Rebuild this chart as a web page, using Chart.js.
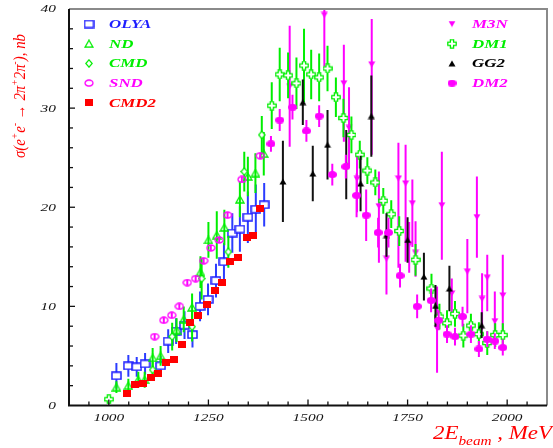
<!DOCTYPE html>
<html>
<head>
<meta charset="utf-8">
<script src="https://cdn.jsdelivr.net/npm/chart.js@4.4.1/dist/chart.umd.min.js"></script>
<style>
  html, body { margin: 0; padding: 0; background: #fff; }
  canvas { display: block; }
</style>
</head>
<body>
<canvas id="chart" width="553" height="448"></canvas>
<script>
// === data: 2E (MeV), sigma (nb), errors (nb) ===
const olyaE = [1019, 1049, 1070, 1091, 1130, 1149, 1169, 1190, 1210, 1229, 1249, 1269, 1289, 1310, 1329, 1349, 1369, 1390];
const olyaS = [3.0, 4.0, 3.9, 4.2, 4.0, 6.5, 7.5, 8.1, 7.15, 10.0, 10.7, 12.6, 14.5, 17.4, 17.8, 19.0, 19.8, 20.25];
const olyaErr = [1.3, 1.1, 1.0, 1.1, 1.0, 1.2, 1.3, 1.4, 1.3, 1.5, 1.6, 1.7, 1.9, 2.0, 2.3, 2.6, 2.5, 2.2];

const ndE = [1019, 1049, 1074, 1090, 1110, 1130, 1170, 1188, 1209, 1230, 1250, 1271, 1290, 1329, 1349, 1368, 1389];
const ndS = [1.85, 2.0, 2.6, 2.6, 4.8, 5.0, 7.6, 8.7, 9.9, 13.45, 16.7, 17.2, 17.96, 20.8, 23.1, 23.45, 25.4];
const ndErr = [0.6, 0.7, 0.8, 0.8, 1.0, 1.0, 1.2, 1.3, 1.4, 1.6, 1.8, 2.4, 1.8, 1.8, 2.0, 2.0, 2.2];

const cmdE = [1110, 1159, 1209, 1233, 1300, 1340, 1384];
const cmdS = [3.6, 6.95, 7.95, 12.8, 15.5, 23.6, 27.3];
const cmdErr = [0.8, 1.4, 1.5, 2.1, 1.6, 2.0, 1.9];

const sndE = [1115, 1138, 1158, 1177, 1197, 1218, 1238, 1256, 1277, 1298, 1334, 1380];
const sndS = [6.95, 8.6, 9.1, 10.0, 12.4, 12.8, 14.6, 15.9, 16.7, 19.2, 22.8, 25.2];
const sndErr = [0.3, 0.3, 0.3, 0.3, 0.3, 0.3, 0.3, 0.3, 0.3, 0.3, 0.3, 0.3];

const cmd2E = [1046, 1066, 1085, 1105, 1124, 1143, 1163, 1184, 1205, 1225, 1246, 1266, 1285, 1305, 1325, 1346, 1362, 1380];
const cmd2S = [1.25, 2.1, 2.2, 2.8, 3.2, 4.3, 4.6, 6.15, 8.4, 9.1, 10.2, 11.6, 12.4, 14.55, 14.9, 16.95, 17.1, 19.85];
const cmd2Err = [0.2, 0.2, 0.2, 0.2, 0.2, 0.3, 0.3, 0.3, 0.3, 0.3, 0.3, 0.3, 0.3, 0.3, 0.3, 0.3, 0.3, 0.3];

const m3nE = [1454, 1541, 1590, 1603, 1623, 1660, 1678, 1697, 1727, 1745, 1754, 1762, 1770, 1824, 1836, 1861, 1900, 1924, 1937, 1950, 1969, 1989];
const m3nS = [32.2, 39.4, 32.5, 28.0, 22.85, 34.4, 20.1, 14.8, 22.9, 22.4, 16.2, 20.4, 15.4, 7.8, 20.2, 11.3, 13.5, 19.0, 10.75, 12.9, 8.5, 11.1];
const m3nLo = [6.1, 5.2, 5.9, 4.0, 3.35, 9.1, 5.7, 3.6, 9.0, 7.9, 2.8, 4.4, 2.4, 4.5, 5.5, 2.0, 4.2, 4.1, 3.1, 3.4, 2.4, 4.5];
const m3nHi = [6.1, 5.5, 3.9, 4.1, 2.45, 4.6, 3.5, 2.6, 3.6, 3.9, 2.3, 2.4, 3.2, 4.2, 5.4, 1.5, 3.3, 4.1, 2.6, 2.3, 3.0, 4.1];

const dm1E = [1000, 1409, 1429, 1450, 1471, 1490, 1508, 1528, 1549, 1570, 1589, 1609, 1630, 1649, 1669, 1689, 1709, 1729, 1770, 1810, 1830, 1849, 1869, 1890, 1909, 1929, 1950, 1970, 1989];
const dm1S = [0.63, 30.25, 33.4, 33.3, 32.5, 34.3, 33.4, 33.1, 34.0, 31.1, 29.0, 27.3, 25.3, 23.7, 22.5, 20.65, 19.3, 17.6, 14.7, 11.8, 8.97, 8.3, 9.25, 7.05, 8.06, 7.2, 6.3, 7.1, 7.1];
const dm1Err = [0.3, 2.35, 2.7, 2.3, 2.6, 3.7, 2.5, 2.4, 2.3, 2.0, 1.95, 1.85, 1.4, 1.35, 1.3, 1.3, 1.4, 1.5, 1.6, 1.5, 1.3, 1.3, 1.3, 1.2, 1.2, 1.2, 1.2, 1.2, 1.2];

const gg2E = [1437, 1487, 1512, 1549, 1596, 1632, 1659, 1697, 1750, 1791, 1820, 1855, 1936];
const gg2S = [22.6, 30.6, 23.4, 26.3, 24.3, 22.4, 29.2, 17.2, 16.7, 13.0, 10.05, 11.8, 8.1];
const gg2Err = [4.1, 2.3, 2.8, 3.5, 3.5, 2.8, 4.1, 2.2, 2.3, 2.4, 2.1, 2.3, 1.3];

const dm2E = [1407, 1429, 1461, 1496, 1528, 1561, 1595, 1622, 1646, 1676, 1702, 1731, 1774, 1809, 1828, 1849, 1869, 1888, 1909, 1929, 1950, 1969, 1989];
const dm2S = [26.4, 28.8, 30.1, 27.7, 29.2, 23.3, 24.1, 21.2, 19.2, 17.45, 17.45, 13.1, 10.0, 10.6, 8.6, 7.2, 6.95, 8.97, 7.2, 5.7, 6.7, 6.5, 5.85];
const dm2Err = [0.8, 1.1, 1.25, 1.1, 1.1, 1.1, 1.2, 2.2, 2.6, 1.5, 1.5, 1.2, 1.2, 1.2, 1.0, 0.9, 0.9, 1.0, 0.9, 0.8, 0.8, 0.8, 0.8];

const xLabels = ['1000', '1250', '1500', '1750', '2000'];
const yLabels = ['0', '10', '20', '30', '40'];

// === colours & markers ===
const BLUE = '#1e1eff', GREEN = '#00ee00', MAG = '#ff00ff', RED = '#ff0000', BLACK = '#000000';

function marker(w, h, draw) {
    const c = document.createElement('canvas');
    c.width = w;
    c.height = h;
    draw(c.getContext('2d'));
    return c;
}
function poly(g, pts) {
    g.beginPath();
    g.moveTo(pts[0][0], pts[0][1]);
    pts.slice(1).forEach(p => g.lineTo(p[0], p[1]));
    g.closePath();
}

const mkOlya = marker(11, 9, g => {
    g.fillStyle = '#fff'; g.strokeStyle = BLUE; g.lineWidth = 1.5;
    g.fillRect(1, 1, 9, 7); g.strokeRect(1, 1, 9, 7);
});
const mkNd = marker(10, 9, g => {
    poly(g, [[5, 1], [9, 8], [1, 8]]);
    g.strokeStyle = GREEN; g.lineWidth = 1.3; g.stroke();
});
const mkCmd = marker(8, 9, g => {
    poly(g, [[4, 0.8], [7.2, 4.5], [4, 8.2], [0.8, 4.5]]);
    g.fillStyle = '#fff'; g.fill();
    g.strokeStyle = GREEN; g.lineWidth = 1.2; g.stroke();
});
const mkSnd = marker(10, 8, g => {
    g.beginPath(); g.ellipse(5, 4, 4, 3, 0, 0, Math.PI * 2);
    g.strokeStyle = MAG; g.lineWidth = 1.3; g.stroke();
});
const mkCmd2 = marker(8, 7, g => {
    g.fillStyle = RED; g.fillRect(0, 0, 8, 7);
});
const mkM3n = marker(8, 7, g => {
    poly(g, [[0.5, 0.5], [7.5, 0.5], [4, 6.5]]);
    g.fillStyle = MAG; g.fill();
});
const mkDm1 = marker(10, 10, g => {
    const c = 5, a = 1.6, r = 4.2;
    poly(g, [[c - a, c - r], [c + a, c - r], [c + a, c - a], [c + r, c - a], [c + r, c + a], [c + a, c + a],
             [c + a, c + r], [c - a, c + r], [c - a, c + a], [c - r, c + a], [c - r, c - a], [c - a, c - a]]);
    g.fillStyle = '#fff'; g.fill();
    g.strokeStyle = GREEN; g.lineWidth = 1.3; g.stroke();
});
const mkGg2 = marker(8, 7, g => {
    poly(g, [[4, 0.5], [7.5, 6.5], [0.5, 6.5]]);
    g.fillStyle = BLACK; g.fill();
});
const mkDm2 = marker(9, 7, g => {
    g.beginPath(); g.ellipse(4.5, 3.5, 4.5, 3.5, 0, 0, Math.PI * 2);
    g.fillStyle = MAG; g.fill();
});

function series(label, e, s, lo, hi, style, barColor, textColor) {
    return {
        label,
        data: e.map((x, i) => ({ x, y: s[i] })),
        errLo: lo, errHi: hi,
        pointStyle: style, pointRadius: 5,
        barColor, textColor,
    };
}

const datasets = [
    series('OLYA', olyaE, olyaS, olyaErr, olyaErr, mkOlya, '#2b3cff', BLUE),
    series('ND', ndE, ndS, ndErr, ndErr, mkNd, GREEN, GREEN),
    series('CMD', cmdE, cmdS, cmdErr, cmdErr, mkCmd, GREEN, GREEN),
    series('SND', sndE, sndS, sndErr, sndErr, mkSnd, MAG, MAG),
    series('CMD2', cmd2E, cmd2S, cmd2Err, cmd2Err, mkCmd2, RED, RED),
    series('M3N', m3nE, m3nS, m3nLo, m3nHi, mkM3n, MAG, MAG),
    series('DM1', dm1E, dm1S, dm1Err, dm1Err, mkDm1, GREEN, GREEN),
    series('GG2', gg2E, gg2S, gg2Err, gg2Err, mkGg2, '#111', BLACK),
    series('DM2', dm2E, dm2S, dm2Err, dm2Err, mkDm2, MAG, MAG),
];
// later series drawn on top
datasets.forEach((d, i) => { d.order = datasets.length - i; });

// === helpers ===
function stretchText(ctx, text, x, y, sx, align) {
    ctx.save();
    ctx.translate(x, y);
    ctx.scale(sx, 1);
    ctx.textAlign = align;
    ctx.fillText(text, 0, 0);
    ctx.restore();
}
// pieces: [text, fontSize, yShift]; fitted to a given length
function richText(ctx, pieces, len) {
    let total = 0;
    pieces.forEach(p => {
        ctx.font = 'italic ' + p[1] + 'px "Liberation Serif"';
        total += ctx.measureText(p[0]).width;
    });
    ctx.scale(len / total, 1);
    let x = 0;
    pieces.forEach(p => {
        ctx.font = 'italic ' + p[1] + 'px "Liberation Serif"';
        ctx.fillText(p[0], x, p[2]);
        x += ctx.measureText(p[0]).width;
    });
}

// === error bars, drawn under each dataset's markers ===
const errorBars = {
    id: 'errorBars',
    beforeDatasetDraw(chart, args) {
        const ds = chart.data.datasets[args.index];
        const { ctx, chartArea: a, scales: { x, y } } = chart;
        ctx.save();
        ctx.beginPath();
        ctx.rect(a.left, a.top, a.right - a.left, a.bottom - a.top);
        ctx.clip();
        ctx.strokeStyle = ds.barColor;
        ctx.lineWidth = 2;
        ds.data.forEach((p, i) => {
            const px = x.getPixelForValue(p.x);
            ctx.beginPath();
            ctx.moveTo(px, y.getPixelForValue(p.y - ds.errLo[i]));
            ctx.lineTo(px, y.getPixelForValue(p.y + ds.errHi[i]));
            ctx.stroke();
        });
        ctx.restore();
    },
};

// === frame, inner ticks, labels, titles, legend ===
const decor = {
    id: 'decor',
    afterDatasetsDraw(chart) {
        const { ctx, chartArea: a, scales: { x, y } } = chart;
        ctx.save();
        // top & right
        ctx.strokeStyle = '#8a8a8a';
        ctx.lineWidth = 2;
        ctx.beginPath();
        ctx.moveTo(a.left, a.top); ctx.lineTo(a.right, a.top); ctx.lineTo(a.right, a.bottom);
        ctx.stroke();
        // left & bottom
        ctx.strokeStyle = '#111';
        ctx.beginPath();
        ctx.moveTo(a.left, a.top); ctx.lineTo(a.left, a.bottom); ctx.lineTo(a.right, a.bottom);
        ctx.stroke();

        ctx.lineWidth = 1.3;
        x.ticks.forEach(t => {
            if (t.value <= x.min || t.value >= x.max) return;
            const px = x.getPixelForValue(t.value);
            const len = t.value % 250 === 0 ? 6 : 4;
            ctx.beginPath(); ctx.moveTo(px, a.bottom); ctx.lineTo(px, a.bottom - len); ctx.stroke();
        });
        y.ticks.forEach(t => {
            if (t.value <= y.min || t.value >= y.max) return;
            const py = y.getPixelForValue(t.value);
            const len = t.value % 10 === 0 ? 6 : 4;
            ctx.beginPath(); ctx.moveTo(a.left, py); ctx.lineTo(a.left + len, py); ctx.stroke();
        });

        // tick labels
        ctx.fillStyle = '#111';
        ctx.font = 'italic 11px "Liberation Serif"';
        ctx.textBaseline = 'alphabetic';
        xLabels.forEach(l => stretchText(ctx, l, x.getPixelForValue(+l), a.bottom + 15.5, 1.4, 'center'));
        ctx.textBaseline = 'middle';
        yLabels.forEach(l => stretchText(ctx, l, a.left - 13, y.getPixelForValue(+l) + 0.5, 1.4, 'right'));

        // axis titles
        ctx.fillStyle = RED;
        ctx.textBaseline = 'alphabetic';
        ctx.textAlign = 'left';
        ctx.save();
        ctx.translate(25, 158);
        ctx.rotate(-Math.PI / 2);
        richText(ctx, [['σ(e', 17, 0], ['+', 11, -7], ['e', 17, 0], ['-', 11, -7], [' → 2π', 17, 0],
                       ['+', 11, -7], ['2π', 17, 0], ['-', 11, -7], ['), nb', 17, 0]], 124);
        ctx.restore();
        ctx.save();
        ctx.translate(433, 439);
        richText(ctx, [['2E', 18, 0], ['beam', 12, 6], [' , MeV', 18, 0]], 119);
        ctx.restore();

        // legend, two columns
        ctx.font = 'bold italic 13px "Liberation Serif"';
        ctx.textBaseline = 'middle';
        chart.data.datasets.forEach((d, i) => {
            const left = i < 5;
            const row = left ? i : i - 5;
            const mx = left ? 89 : 452, tx = left ? 109 : 472;
            const ly = 24 + row * 19.7;
            const m = d.pointStyle;
            ctx.drawImage(m, mx - m.width / 2, ly - m.height / 2);
            ctx.fillStyle = d.textColor;
            stretchText(ctx, d.label, tx, ly + 0.5, 1.3, 'left');
        });
        ctx.restore();
    },
};

new Chart(document.getElementById('chart'), {
    type: 'scatter',
    data: { datasets },
    options: {
        responsive: false,
        animation: false,
        events: [],
        layout: { padding: { top: 9, right: 0.4, left: 0, bottom: 0 } },
        scales: {
            x: {
                type: 'linear', min: 900, max: 2100,
                ticks: { stepSize: 50, display: false },
                grid: { display: false },
                border: { display: false },
                afterFit: s => { s.height = 42.5; },
            },
            y: {
                type: 'linear', min: 0, max: 40,
                ticks: { stepSize: 2, display: false },
                grid: { display: false },
                border: { display: false },
                afterFit: s => { s.width = 69; },
            },
        },
        plugins: {
            legend: { display: false },
            tooltip: { enabled: false },
        },
    },
    plugins: [errorBars, decor],
});
</script>
</body>
</html>
